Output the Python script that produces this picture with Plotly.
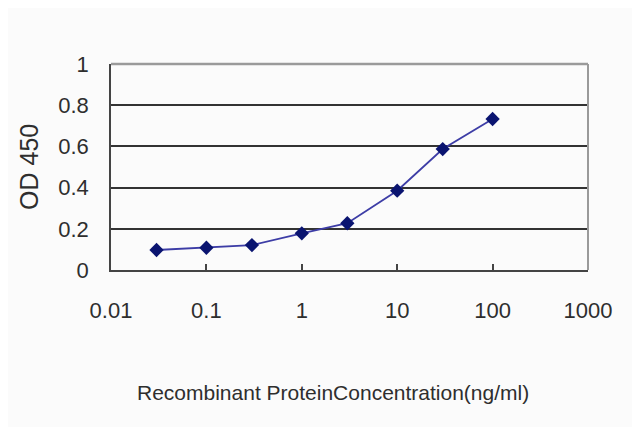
import plotly.graph_objects as go

# concentrações (ng/ml) e leituras OD 450
conc = [0.03, 0.1, 0.3, 1, 3, 10, 30, 100]
od450 = [0.097, 0.108, 0.121, 0.178, 0.227, 0.385, 0.587, 0.733]

x_ticks = [0.01, 0.1, 1, 10, 100, 1000]
x_labels = ["0.01", "0.1", "1", "10", "100", "1000"]
y_ticks = [0, 0.2, 0.4, 0.6, 0.8, 1]
y_labels = ["0", "0.2", "0.4", "0.6", "0.8", "1"]

fonte = "Liberation Sans, Arial, sans-serif"
cor_txt = "#2e2e2e"

fig = go.Figure()

fig.add_trace(go.Scatter(
    x=conc, y=od450,
    mode="lines+markers",
    line=dict(color="#3d3da6", width=1.8),
    marker=dict(symbol="diamond", size=11, color="#0a1470"),
    showlegend=False
))

fig.update_xaxes(
    type="log", range=[-2, 3],
    tickvals=x_ticks, ticktext=x_labels,
    ticks="inside", ticklen=6, tickwidth=1.5, tickcolor="#444",
    showline=True, linecolor="#444", linewidth=1.5,
    showgrid=False, zeroline=False,
    ticklabelstandoff=20,
    tickfont=dict(family=fonte, size=22, color=cor_txt)
)
fig.update_yaxes(
    range=[0, 1],
    tickvals=y_ticks, ticktext=y_labels,
    ticks="",
    showline=True, linecolor="#444", linewidth=1.5,
    showgrid=True, gridcolor="#333", gridwidth=2,
    zeroline=False,
    ticklabelstandoff=16,
    tickfont=dict(family=fonte, size=22, color=cor_txt)
)

# moldura cinza em cima e à direita
fig.add_shape(type="line", xref="paper", yref="paper", x0=0, x1=1, y0=1, y1=1,
              line=dict(color="#9a9a9a", width=2.5), layer="above")
fig.add_shape(type="line", xref="paper", yref="paper", x0=1, x1=1, y0=0, y1=1,
              line=dict(color="#9a9a9a", width=2), layer="above")

# títulos dos eixos
fig.add_annotation(
    x=0.465, y=-0.597, xref="paper", yref="paper",
    text="Recombinant ProteinConcentration(ng/ml)",
    showarrow=False, xanchor="center", yanchor="middle",
    font=dict(family=fonte, size=21, color=cor_txt)
)
fig.add_annotation(
    x=-0.172, y=0.5, xref="paper", yref="paper",
    text="OD 450", textangle=-90,
    showarrow=False, xanchor="center", yanchor="middle",
    font=dict(family=fonte, size=25, color=cor_txt)
)

# a página desloca o gráfico 8 px (margem do body), compensado aqui
fig.update_layout(
    width=640, height=427,
    margin=dict(l=103, r=60, t=56, b=165),
    paper_bgcolor="#fbfbfb",
    plot_bgcolor="#fbfbfb"
)

fig.write_html("out.html")
